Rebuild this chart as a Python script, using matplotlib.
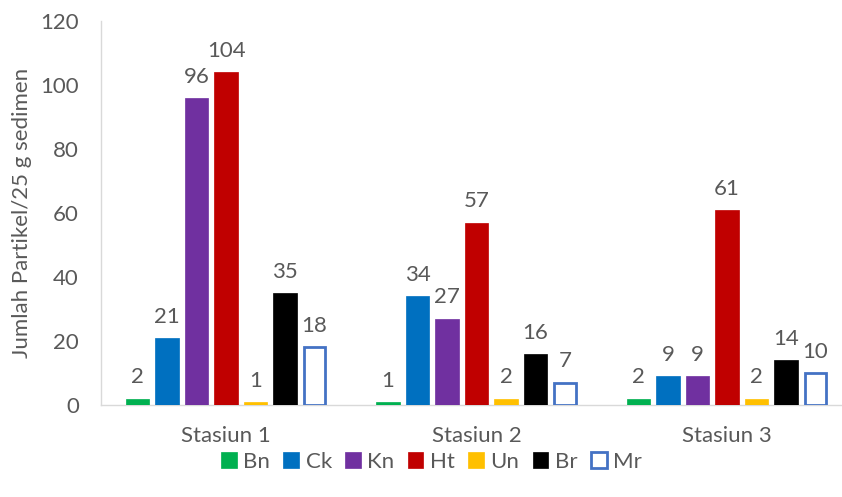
import matplotlib
matplotlib.use("Agg")
import matplotlib.pyplot as plt
import numpy as np

categories = ["Stasiun 1", "Stasiun 2", "Stasiun 3"]
series_names = ["Bn", "Ck", "Kn", "Ht", "Un", "Br", "Mr"]
Bn = [2, 1, 2]
Ck = [21, 34, 9]
Kn = [96, 27, 9]
Ht = [104, 57, 61]
Un = [1, 2, 2]
Br = [35, 16, 14]
Mr = [18, 7, 10]
series_values = [Bn, Ck, Kn, Ht, Un, Br, Mr]
yticks = [0, 20, 40, 60, 80, 100, 120]

face_colors = ["#00B050", "#0070C0", "#7030A0", "#C00000", "#FFC000", "#000000", "#FFFFFF"]
edge_colors = ["#00B050", "#0070C0", "#7030A0", "#C00000", "#FFC000", "#000000", "#4472C4"]

plt.rcParams['font.family'] = ['Lato', 'DejaVu Sans']
text_color = "#595959"
fs = 16

W, H = 842, 497
fig = plt.figure(figsize=(W / 100, H / 100), dpi=100)
left_px, right_px, top_px, bottom_px = 101, 842, 21, 405
ax = fig.add_axes([left_px / W, 1 - bottom_px / H, (right_px - left_px) / W, (bottom_px - top_px) / H])

x = np.arange(len(categories))
step = 29.5 / 250.5
width = 23.5 / 250.5
for k, (name, vals) in enumerate(zip(series_names, series_values)):
    xpos = x + (k - 3) * step
    lw = 2.0 if name == "Mr" else 0.5
    w = width - (2.0 / 250.5 if name == "Mr" else 0)
    ax.bar(xpos, vals, w, color=face_colors[k], edgecolor=edge_colors[k],
           linewidth=lw, label=name, zorder=3)
    for xi, v in zip(xpos, vals):
        ax.annotate(str(v), (xi, v), xytext=(0, 8), textcoords="offset points",
                    ha="center", va="bottom", fontsize=fs, color=text_color)

ax.set_xlim(-0.5, 2.5 - 10 / 250.5)
ax.set_ylim(0, 120)
ax.set_yticks(yticks)
ax.set_xticks(x)
ax.set_xticklabels(categories)
ax.tick_params(axis="both", length=0, labelsize=fs, colors=text_color)
ax.tick_params(axis="x", pad=15)
ax.tick_params(axis="y", pad=16)
for s in ["top", "right"]:
    ax.spines[s].set_visible(False)
for s in ["left", "bottom"]:
    ax.spines[s].set_color("#D9D9D9")
    ax.spines[s].set_linewidth(1.0)

ax.set_ylabel("Jumlah Partikel/25 g sedimen", fontsize=fs, color=text_color, labelpad=6)

leg = fig.legend(loc="center", bbox_to_anchor=(0.5125, 1 - 462 / H), ncol=7, frameon=False,
                 fontsize=fs, handlelength=0.7, handleheight=0.7, handletextpad=0.3,
                 columnspacing=0.6, labelcolor=text_color)

fig.savefig("out.png", dpi=100)
